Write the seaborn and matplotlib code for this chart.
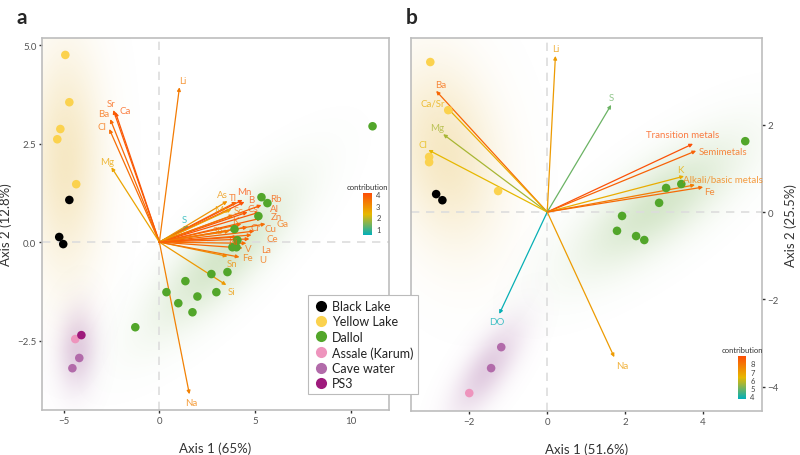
import numpy as np
import pandas as pd
import matplotlib
matplotlib.use("Agg")
import matplotlib.pyplot as plt
import seaborn as sns
from matplotlib.colors import LinearSegmentedColormap, Normalize, to_rgb

# groups
sites = ["Black Lake", "Yellow Lake", "Dallol", "Assale (Karum)", "Cave water", "PS3"]
site_colors = ["#000000", "#FBD24E", "#52A62A", "#EE94BD", "#B26BAA", "#9E1A7C"]

# panel a : samples
a_site = (["Black Lake"] * 3 + ["Yellow Lake"] * 5 + ["Dallol"] * 17
          + ["Assale (Karum)"] + ["Cave water"] * 2 + ["PS3"])
a_x = [-4.71, -5.24, -5.03,
       -4.92, -4.71, -5.18, -5.34, -4.35,
       11.15, 5.34, 5.65, 5.18, 3.93, 4.08, 3.82, 4.03, 2.72, 3.56, 1.99, 2.98,
       0.37, 1.36, 0.99, 1.73, -1.26,
       -4.40,
       -4.19, -4.55,
       -4.08]
a_y = [1.07, 0.13, -0.05,
       4.75, 3.55, 2.87, 2.61, 1.47,
       2.94, 1.14, 0.99, 0.66, 0.33, 0.05, -0.13, -0.13, -0.81, -0.76, -1.38, -1.27,
       -1.27, -0.99, -1.55, -1.78, -2.16,
       -2.46,
       -2.94, -3.20,
       -2.36]

# panel a : variables
a_vars = ["Li", "Sr", "Ca", "Ba", "Cl", "Mg", "S", "Na", "Si", "Sn", "Fe", "V", "U",
          "La", "Ce", "Cu", "Cr", "Ga", "Zn", "Al", "Rb", "Cs", "Sc", "B", "Mn", "Tl",
          "As", "Mo", "K", "Sb", "Ni"]
a_vx = [1.05, -2.41, -2.30, -2.57, -2.62, -2.51, 1.52, 1.57, 3.50, 3.56, 4.19, 4.35, 4.55,
        4.71, 4.82, 4.97, 4.61, 5.55, 5.34, 5.24, 5.34, 4.61, 3.87, 4.45, 4.35, 4.03,
        3.56, 3.77, 4.29, 3.66, 4.08]
a_vy = [3.93, 3.35, 3.30, 3.12, 2.87, 1.90, 0.41, -3.86, -1.09, -0.36, -0.38, -0.15, -0.03,
        0.08, 0.18, 0.28, 0.38, 0.46, 0.61, 0.76, 0.94, 0.76, 0.69, 1.02, 1.07, 1.02,
        1.04, 0.84, 0.46, 0.28, 0.13]
a_contrib = [3.3, 3.8, 3.9, 3.6, 3.5, 2.6, 0.6, 3.2, 2.8, 3.0, 3.4, 3.6, 3.5,
             3.7, 3.6, 3.7, 3.9, 3.5, 3.8, 3.9, 3.8, 3.9, 3.4, 4.0, 4.0, 3.7,
             2.9, 2.7, 3.6, 3.3, 3.8]

# panel b : samples
b_site = (["Black Lake"] * 2 + ["Yellow Lake"] * 5 + ["Dallol"] * 8
          + ["Cave water"] * 2 + ["Assale (Karum)"])
b_x = [-2.85, -2.69,
       -3.00, -2.54, -3.03, -3.03, -1.26,
       5.08, 3.44, 3.05, 2.87, 1.92, 1.79, 2.28, 2.49,
       -1.18, -1.44,
       -2.00]
b_y = [0.41, 0.27,
       3.43, 2.33, 1.26, 1.14, 0.48,
       1.62, 0.64, 0.55, 0.21, -0.09, -0.43, -0.55, -0.64,
       -3.09, -3.57,
       -4.14]

# panel b : variables
b_vars = ["Li", "S", "Ba", "Ca/Sr", "Mg", "Cl", "Transition metals", "Semimetals", "K",
          "Alkali/basic metals", "Fe", "DO", "Na"]
b_vx = [0.21, 1.64, -2.85, -2.54, -2.67, -3.05, 3.74, 3.82, 3.51, 3.79, 4.00, -1.23, 1.72]
b_vy = [3.57, 2.45, 2.77, 2.36, 1.78, 1.42, 1.56, 1.40, 0.82, 0.62, 0.57, -2.33, -3.32]
b_contrib = [7.0, 4.9, 8.3, 6.6, 5.6, 6.3, 8.8, 8.4, 6.6, 7.8, 8.2, 3.8, 7.0]

# label nudges in pixels
a_nudge = {"Li": (3, 7), "Sr": (-2, 7), "Ca": (10, 2), "Ba": (-7, 6), "Cl": (-7, 3),
           "Mg": (-4, 6), "S": (-4, 6), "Na": (2, -8), "Si": (5, -6), "Sn": (5, -7),
           "Fe": (8, 0), "V": (6, 0), "U": (16, -16), "La": (17, -11), "Ce": (21, -3),
           "Cu": (16, 3), "Cr": (8, 0), "Ga": (17, 0), "Zn": (15, 2), "Al": (15, 4),
           "Rb": (14, 7), "Cs": (5, 4), "Sc": (5, 4), "B": (7, 2), "Mn": (2, 8),
           "Tl": (-4, 4), "As": (-5, 7), "Mo": (-10, 0), "K": (-6, 3), "Sb": (-11, 1),
           "Ni": (-4, -5)}
b_nudge = {"Li": (0, 7), "S": (0, 7), "Ba": (5, 6), "Ca/Sr": (-15, 6), "Mg": (-6, 7),
           "Cl": (-5, 5), "Transition metals": (-10, 9), "Semimetals": (27, -1),
           "K": (-4, 7), "Alkali/basic metals": (28, 6), "Fe": (6, -4), "DO": (-2, -8),
           "Na": (8, -8)}

cmap = LinearSegmentedColormap.from_list("contrib", ["#00AFBB", "#E7B800", "#FC4E07"])
palette = dict(zip(sites, site_colors))
shade_colors = {"Yellow Lake": "#E9C465", "Dallol": "#7DB35A", "Cave water": "#B27BB0"}

sns.set_style("white")
plt.rcParams["font.family"] = ["Lato", "DejaVu Sans"]

fig = plt.figure(figsize=(8, 4.56), dpi=100)
ax_b = fig.add_axes([0.514, 0.0965, 0.4385, 0.818])
ax_a = fig.add_axes([0.0525, 0.0987, 0.4335, 0.8158])
ax_a.set_zorder(3)


def shade(ax, xs, ys, color, xlim, ylim, inflate, reg, amax):
    pts = np.column_stack([xs, ys])
    mu = pts.mean(axis=0)
    cov = np.cov(pts.T) * inflate + np.diag(reg)
    inv = np.linalg.inv(cov)
    gx, gy = np.meshgrid(np.linspace(xlim[0], xlim[1], 300), np.linspace(ylim[0], ylim[1], 300))
    d = np.stack([gx - mu[0], gy - mu[1]], axis=-1)
    m = np.einsum("...i,ij,...j->...", d, inv, d)
    img = np.zeros(gx.shape + (4,))
    img[..., :3] = to_rgb(color)
    img[..., 3] = amax * np.exp(-0.5 * m)
    ax.imshow(img, extent=(xlim[0], xlim[1], ylim[0], ylim[1]), origin="lower",
              aspect="auto", zorder=0, interpolation="bilinear")


def panel(ax, df, vars_, vx, vy, contrib, nudge, norm, xlim, ylim, groups):
    ax.set_xlim(xlim)
    ax.set_ylim(ylim)
    for g, infl, reg, amax in groups:
        sub = df[df["site"].isin(g)]
        shade(ax, sub["x"], sub["y"], shade_colors[g[0]], xlim, ylim, infl, reg, amax)
    ax.axhline(0, color="#DDDDDD", lw=1.2, ls=(0, (5, 4)), zorder=1)
    ax.axvline(0, color="#DDDDDD", lw=1.2, ls=(0, (5, 4)), zorder=1)
    for name, x, y, c in zip(vars_, vx, vy, contrib):
        col = cmap(norm(c))
        ax.annotate("", xy=(x, y), xytext=(0, 0),
                    arrowprops=dict(arrowstyle="-|>", color=col, lw=0.9,
                                    mutation_scale=5, shrinkA=0, shrinkB=0), zorder=2)
        dx, dy = nudge[name]
        ax.annotate(name, xy=(x, y), xytext=(dx, dy), textcoords="offset pixels",
                    ha="center", va="center", fontsize=7, color=col, alpha=0.75, zorder=4)
    sns.scatterplot(data=df, x="x", y="y", hue="site", hue_order=sites, palette=palette,
                    s=38, linewidth=0, ax=ax, zorder=3, legend=(ax is ax_a))
    for sp in ax.spines.values():
        sp.set_color("#BDBDBD")
        sp.set_linewidth(1.2)
    ax.tick_params(axis="both", length=2, width=1, color="#333333", labelsize=7,
                   labelcolor="#555555", pad=2, bottom=True, left=True)


df_a = pd.DataFrame({"x": a_x, "y": a_y, "site": a_site})
df_b = pd.DataFrame({"x": b_x, "y": b_y, "site": b_site})

norm_a = Normalize(0.5, 4.05)
norm_b = Normalize(3.7, 8.9)

panel(ax_a, df_a, a_vars, a_vx, a_vy, a_contrib, a_nudge, norm_a, (-6.14, 12.0), (-4.26, 5.18),
      [(["Yellow Lake", "Black Lake"], 1.2, (1.6, 0.6), 0.38),
       (["Dallol"], 0.8, (0.8, 0.3), 0.32),
       (["Cave water", "Assale (Karum)", "PS3"], 1.0, (0.45, 0.35), 0.38)])
panel(ax_b, df_b, b_vars, b_vx, b_vy, b_contrib, b_nudge, norm_b, (-3.49, 5.51), (-4.55, 3.98),
      [(["Yellow Lake", "Black Lake"], 1.2, (0.45, 0.5), 0.38),
       (["Dallol"], 1.5, (0.4, 0.2), 0.32),
       (["Cave water", "Assale (Karum)"], 1.5, (0.12, 0.12), 0.38)])

ax_a.set_xticks([-5, 0, 5, 10])
ax_a.set_xticklabels(["\u22125", "0", "5", "10"])
ax_a.set_yticks([-2.5, 0, 2.5, 5])
ax_a.set_yticklabels(["\u22122.5", "0.0", "2.5", "5.0"])
ax_a.set_xlabel("Axis 1 (65%)", fontsize=9.5, color="#333333", labelpad=12)
ax_a.set_ylabel("Axis 2 (12.8%)", fontsize=9.5, color="#333333", labelpad=4)

ax_b.set_xticks([-2, 0, 2, 4])
ax_b.set_xticklabels(["\u22122", "0", "2", "4"])
ax_b.set_yticks([-4, -2, 0, 2])
ax_b.set_yticklabels(["\u22124", "\u22122", "0", "2"])
ax_b.yaxis.tick_right()
ax_b.yaxis.set_label_position("right")
ax_b.tick_params(axis="y", right=True, left=False)
ax_b.set_xlabel("Axis 1 (51.6%)", fontsize=9.5, color="#333333", labelpad=12)
ax_b.set_ylabel("Axis 2 (25.5%)", fontsize=9.5, color="#333333", labelpad=4)

sns.move_legend(ax_a, loc="upper left", bbox_to_anchor=(308 / 800, 1 - 296 / 456),
                bbox_transform=fig.transFigure, title=None, frameon=True, fontsize=9,
                handletextpad=0.2, borderpad=0.4, labelspacing=0.27, markerscale=1.3,
                borderaxespad=0, handlelength=1.3,
                fancybox=False, edgecolor="#BBBBBB", framealpha=1)
leg = ax_a.get_legend()
leg.set_zorder(10)
leg.get_frame().set_linewidth(0.8)
for t in leg.get_texts():
    t.set_color("#222222")

# colour bars
for rect, norm, ticks in [([0.454, 0.482, 0.011, 0.092], norm_a, [1, 2, 3, 4]),
                          ([0.9225, 0.123, 0.010, 0.094], norm_b, [4, 5, 6, 7, 8])]:
    cax = fig.add_axes(rect)
    cax.set_zorder(5)
    cb = fig.colorbar(plt.cm.ScalarMappable(norm=norm, cmap=cmap), cax=cax)
    cb.set_ticks(ticks)
    cb.outline.set_visible(False)
    cax.tick_params(labelsize=5.5, length=2, color="white", labelcolor="#444444", pad=1)
    cax.set_title("contribution", fontsize=5.5, color="#333333", pad=3)

fig.text(22 / 800, 1 - 18 / 456, "a", fontsize=15, fontweight="bold", ha="center", va="center")
fig.text(412 / 800, 1 - 18 / 456, "b", fontsize=15, fontweight="bold", ha="center", va="center")

fig.savefig("out.png", dpi=100)
